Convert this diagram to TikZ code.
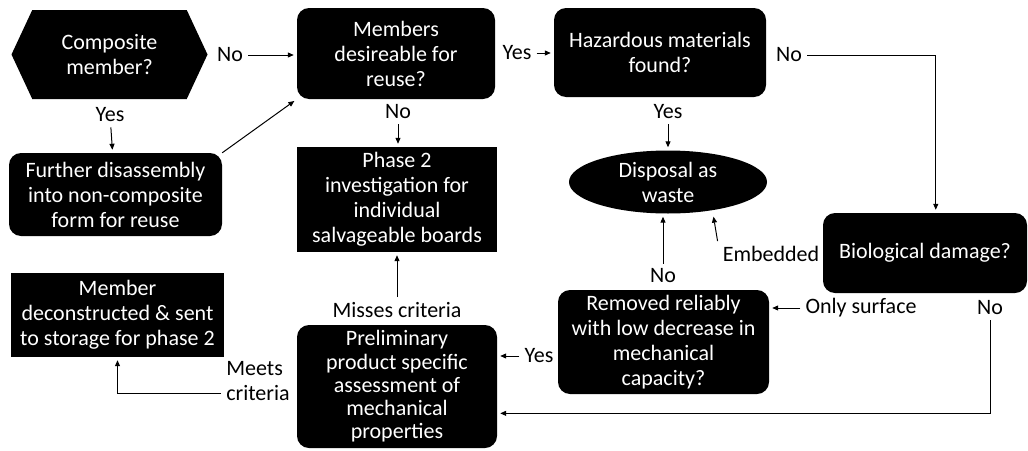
\documentclass[tikz,border=0pt]{standalone}
\usepackage{fontspec}
\setmainfont{Carlito}
\usetikzlibrary{positioning, shapes.geometric, shapes.symbols, arrows.meta}

\begin{document}
\begin{tikzpicture}[x=1pt, y=-1pt, font=\fontsize{22}{25}\selectfont,
  box/.style={fill=black, text=white, rounded corners=12pt, inner sep=2pt, align=center},
  sqbox/.style={fill=black, text=white, inner sep=2pt, align=center},
  hexbox/.style={shape=signal, signal to=east and west, signal pointer angle=130,
    fill=black, text=white, inner sep=2pt, align=center},
  oval/.style={ellipse, fill=black, text=white, inner sep=0pt, align=center},
  lbl/.style={inner sep=5pt},
  arr/.style={-{Triangle[length=6pt, width=5pt]}, line width=1pt, shorten >=3pt}]

\useasboundingbox (0,0) rectangle (1028,450);

% decision and process boxes
\node[hexbox, minimum width=196pt, minimum height=89pt] (comp) at (109.5,54.5) {Composite\\member?};
\node[box, minimum width=198pt, minimum height=91pt] (memb) at (396,53.5) {Members\\desireable for\\reuse?};
\node[box, minimum width=213pt, minimum height=83pt] (furth) at (115.5,194.5) {Further disassembly\\into non-composite\\form for reuse};
\node[sqbox, minimum width=200pt, minimum height=105pt] (phase) at (397,199.5) {Phase 2\\investigation for\\individual\\salvageable boards};
\node[box, minimum width=212pt, minimum height=89pt] (haz) at (660,52.5) {Hazardous materials\\found?};
\node[oval, minimum width=198pt, minimum height=63pt] (disp) at (668,182) {Disposal as\\waste};
\node[box, minimum width=204pt, minimum height=80pt] (bio) at (925,253) {Biological damage?};
\node[box, minimum width=211pt, minimum height=104pt] (remov) at (663.5,342) {Removed reliably\\with low decrease in\\mechanical\\capacity?};
\node[box, minimum width=200pt, minimum height=123pt, font=\fontsize{22}{23.3}\selectfont] (prelim) at (397,386.5) {Preliminary\\product specific\\assessment of\\mechanical\\properties};
\node[sqbox, minimum width=213pt, minimum height=84pt] (store) at (117.5,315) {Member\\deconstructed \& sent\\to storage for phase 2};

% branch labels
\node[lbl] (lNo1) at (230,55) {No};
\node[lbl] (lYes1) at (110,115) {Yes};
\node[lbl] (lYes2) at (517,53) {Yes};
\node[lbl] (lNo2) at (398,112) {No};
\node[lbl] (lNo3) at (789,55) {No};
\node[lbl] (lYes3) at (668,112) {Yes};
\node[lbl] (lEmb) at (771,254) {Embedded};
\node[lbl] (lNo4) at (663,276) {No};
\node[lbl] (lOnly) at (861,308) {Only surface};
\node[lbl] (lNo5) at (990,308) {No};
\node[lbl] (lYes4) at (539,356) {Yes};
\node[lbl] (lMiss) at (397,310) {Misses criteria};
\node[lbl, align=left] (lMeets) at (258,381) {Meets\\criteria};

% connectors
\draw[arr] (lNo1.east) -- (lNo1.east -| memb.west);
\draw[arr] (lYes1) -- (furth);
\draw[arr] (furth.north east) -- (memb.south west);
\draw[arr] (lYes2.east) -- (lYes2.east -| haz.west);
\draw[arr] (lNo2) -- (lNo2 |- phase.north);
\draw[arr] (lNo3.east) -| (bio.75);
\draw[arr] (lYes3) -- (disp);
\draw[arr] (lEmb.north west) -- ([xshift=45pt]disp.south);
\draw[arr] (lNo4.north) -- (lNo4.north |- disp.south);
\draw[arr] (lOnly.west) -- (lOnly.west -| remov.east);
\draw[arr] (lNo5.south) |- (prelim.-15);
\draw[arr] (lYes4.west) -- (lYes4.west -| prelim.east);
\draw[arr] (lMiss) -- (phase);
\draw[arr] ([yshift=-12pt]lMeets.west) -| (store);

\end{tikzpicture}
\end{document}
